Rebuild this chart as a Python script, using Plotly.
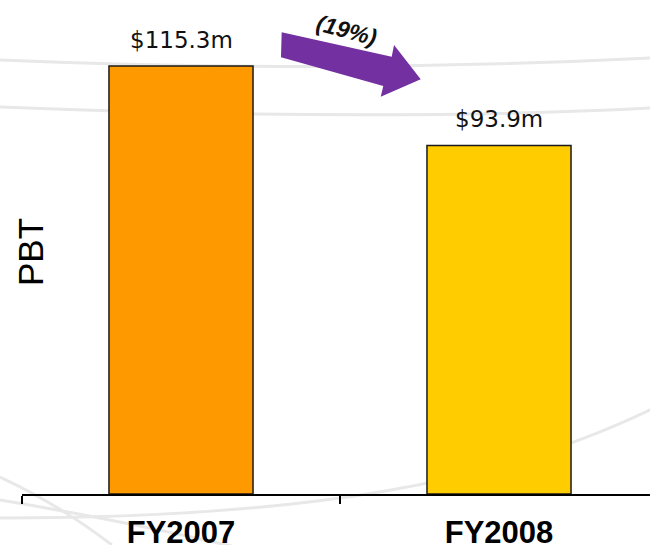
import plotly.graph_objects as go

categories = ["FY2007", "FY2008"]
pbt_values = [115.3, 93.9]
value_labels = ["$115.3m", "$93.9m"]
bar_colors = ["#FF9900", "#FFCC00"]
change_label = "(19%)"

W, H = 650, 545
L, R, T, B = 22, 0, 0, 51
PW, PH = W - L - R, H - T - B


def px(x, y):
    """pixel -> paper coords"""
    return (x - L) / PW, (PH + T - y) / PH


def path_from_px(cmds):
    out = []
    for c in cmds:
        if isinstance(c, str):
            out.append(c)
        else:
            xp, yp = px(*c)
            out.append(f"{xp:.4f},{yp:.4f}")
    return " ".join(out)


fig = go.Figure()
fig.add_trace(go.Bar(
    x=categories, y=pbt_values, width=0.453,
    marker=dict(color=bar_colors, line=dict(color="#1a1a1a", width=1.5)),
    hoverinfo="skip",
))

shapes = []
# decorative background swooshes
swoosh = [
    ["M", (0, 60), "Q", (330, 74), (650, 58)],
    ["M", (0, 107), "Q", (380, 122), (650, 108)],
    ["M", (0, 518), "C", (300, 518), (500, 485), (660, 405)],
    ["M", (0, 477), "Q", (60, 505), (112, 545)],
    ["M", (0, 500), "Q", (120, 520), (240, 548)],
]
for s in swoosh:
    shapes.append(dict(type="path", xref="paper", yref="paper", layer="below",
                       path=path_from_px(s), line=dict(color="#e8e8e8", width=3)))

# purple arrow
arrow = ["M", (281.7, 32.3), "L", (391.7, 56.7), "L", (394, 45), "L", (420.7, 79.3),
         "L", (380.7, 96.7), "L", (383.3, 86), "L", (281, 57.3), "Z"]
shapes.append(dict(type="path", xref="paper", yref="paper", layer="above",
                   path=path_from_px(arrow), fillcolor="#7330A0",
                   line=dict(color="#7330A0", width=0)))

annotations = []
for c, v, t in zip(categories, pbt_values, value_labels):
    annotations.append(dict(x=c, y=v, xref="x", yref="y", text=t, showarrow=False,
                            xanchor="center", yanchor="bottom", yshift=11,
                            font=dict(family="DejaVu Sans", size=23, color="#111111")))

xp, yp = px(346, 30)
annotations.append(dict(x=xp, y=yp, xref="paper", yref="paper", text=f"<b><i>{change_label}</i></b>",
                        showarrow=False, textangle=15, xanchor="center", yanchor="middle",
                        font=dict(family="Liberation Sans", size=23, color="#111111")))

xp, yp = px(31, 252)
annotations.append(dict(x=xp, y=yp, xref="paper", yref="paper", text="PBT",
                        showarrow=False, textangle=-90, xanchor="center", yanchor="middle",
                        font=dict(family="Liberation Sans", size=35, color="#000000")))

fig.update_layout(
    width=W, height=H,
    margin=dict(l=L, r=R, t=T, b=B, autoexpand=False),
    paper_bgcolor="white", plot_bgcolor="white",
    showlegend=False,
    shapes=shapes,
    annotations=annotations,
    xaxis=dict(
        type="category", range=[-0.5, (PW / 318) - 0.5], automargin=False,
        showline=True, linecolor="#000000", linewidth=1.5,
        ticks="outside", tickson="boundaries", ticklen=8, tickwidth=1.5, tickcolor="#000000",
        ticklabelstandoff=10,
        tickfont=dict(family="Liberation Sans", size=31, color="#000000", weight="bold"),
        showgrid=False, zeroline=False, fixedrange=True,
    ),
    yaxis=dict(
        range=[0, PH / (428 / 115.3)], visible=False, showgrid=False, zeroline=False,
        fixedrange=True, automargin=False,
    ),
)

fig.write_html("out.html")
